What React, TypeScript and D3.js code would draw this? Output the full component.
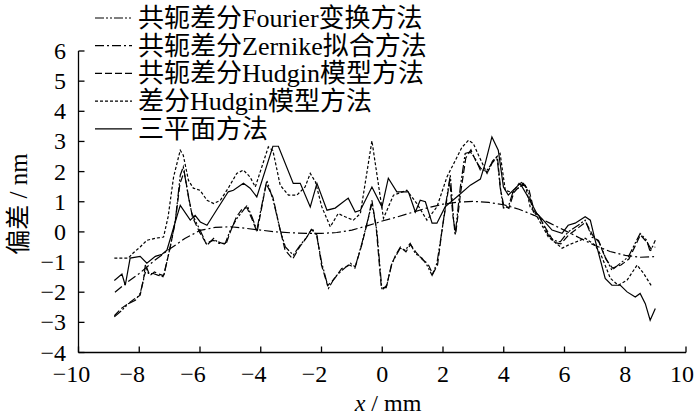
import React from "react";
import * as d3 from "d3";

type Pt = [number, number];

// 共轭差分Fourier变换方法
const fourier: Pt[] = [
  [-8.82, -2.82], [-8.57, -2.6], [-8.36, -2.38], [-8.13, -2.27], [-7.97, -2.04], [-7.86, -1.6],
  [-7.8, -1.1], [-7.7, -1.38], [-7.54, -1.38], [-7.37, -1.44], [-7.2, -1.49], [-6.98, -0.5],
  [-6.81, 0.39], [-6.65, 1.88], [-6.55, 2.16], [-6.38, 1.16], [-6.27, 0.61], [-6.0, 0.06],
  [-5.77, -0.44], [-5.55, -0.21], [-5.38, -0.38], [-5.17, -0.38], [-5.0, 0.06], [-4.79, 0.44],
  [-4.57, 0.72], [-4.45, 0.88], [-4.29, 0.5], [-4.13, 0.06], [-3.8, 1.71], [-3.59, 1.05],
  [-3.36, 0.06], [-3.19, -0.5], [-2.93, -0.77], [-2.7, -0.44], [-2.48, -0.17], [-2.31, 0.12],
  [-2.15, -0.17], [-1.99, -1.04], [-1.77, -1.87], [-1.55, -1.49], [-1.32, -1.27], [-1.05, -1.04],
  [-0.89, -1.16], [-0.67, -0.38], [-0.45, 0.5], [-0.34, 0.94], [-0.18, 0.06], [-0.01, -1.93],
  [0.15, -1.77], [0.32, -1.04], [0.43, -0.83], [0.59, -0.54], [0.76, -0.61], [0.92, -0.38],
  [1.09, -0.72], [1.31, -0.87], [1.47, -1.1], [1.64, -1.44], [1.8, -1.04], [1.97, 0.06],
  [2.07, 0.79], [2.24, 1.88], [2.35, 0.39], [2.4, -0.11], [2.57, 1.49], [2.73, 2.6],
  [2.9, 2.65], [3.06, 2.44], [3.23, 2.05], [3.45, 2.05], [3.61, 2.27], [3.78, 2.49],
  [3.88, 1.49], [3.99, 0.79], [4.15, 0.83], [4.32, 1.38], [4.48, 1.45], [4.65, 1.61],
  [4.81, 1.33], [4.98, 0.66], [5.15, 0.55], [5.47, -0.11], [5.64, -0.28], [5.86, -0.33],
  [6.12, 0.0], [6.45, 0.22], [6.68, 0.39], [6.9, -0.17], [7.12, -0.28], [7.34, -0.83],
  [7.56, -1.27], [7.84, -1.04], [8.1, -0.83], [8.49, -0.05], [8.71, -0.28], [8.82, -0.66],
  [8.99, -0.28],
];

// 共轭差分Zernike拟合方法
const zernike: Pt[] = [
  [-8.8, -2.0], [-8.5, -1.75], [-8.0, -1.38], [-7.5, -0.95], [-7.0, -0.57], [-6.5, -0.22],
  [-6.0, 0.05], [-5.5, 0.15], [-5.0, 0.17], [-4.5, 0.12], [-4.0, 0.06], [-3.5, 0.0],
  [-3.0, -0.03], [-2.5, -0.05], [-2.0, -0.05], [-1.5, -0.02], [-1.0, 0.06], [-0.5, 0.2],
  [0.0, 0.36], [0.5, 0.5], [1.0, 0.65], [1.5, 0.8], [2.0, 0.92], [2.5, 0.99],
  [3.0, 1.01], [3.5, 0.98], [4.0, 0.9], [4.5, 0.75], [5.0, 0.55], [5.5, 0.3],
  [6.0, 0.05], [6.5, -0.2], [7.0, -0.45], [7.5, -0.65], [8.0, -0.78], [8.5, -0.84],
  [9.0, -0.82],
];

// 共轭差分Hudgin模型方法
const conjHudgin: Pt[] = [
  [-8.82, -2.78], [-8.6, -2.55], [-8.4, -2.4], [-8.15, -2.22], [-7.97, -2.1], [-7.85, -1.5],
  [-7.75, -1.2], [-7.65, -1.45], [-7.5, -1.33], [-7.35, -1.4], [-7.2, -1.45], [-7.0, -0.6],
  [-6.82, 0.3], [-6.66, 1.6], [-6.52, 2.0], [-6.4, 1.3], [-6.25, 0.5], [-6.02, 0.0],
  [-5.8, -0.38], [-5.57, -0.28], [-5.4, -0.33], [-5.15, -0.42], [-5.0, 0.0], [-4.8, 0.5],
  [-4.6, 0.78], [-4.45, 0.8], [-4.3, 0.45], [-4.12, 0.0], [-3.82, 1.6], [-3.6, 1.15],
  [-3.38, 0.15], [-3.2, -0.6], [-2.95, -0.9], [-2.72, -0.5], [-2.5, -0.2], [-2.33, 0.08],
  [-2.15, -0.1], [-2.0, -1.1], [-1.8, -1.78], [-1.57, -1.55], [-1.34, -1.22], [-1.07, -1.1],
  [-0.9, -1.2], [-0.68, -0.45], [-0.47, 0.4], [-0.34, 1.05], [-0.2, 0.15], [-0.03, -1.85],
  [0.13, -1.85], [0.3, -1.1], [0.45, -0.75], [0.6, -0.5], [0.78, -0.66], [0.93, -0.42],
  [1.1, -0.66], [1.32, -0.92], [1.5, -1.05], [1.66, -1.4], [1.82, -1.1], [1.98, 0.15],
  [2.1, 0.9], [2.22, 1.7], [2.33, 0.5], [2.42, -0.05], [2.58, 1.3], [2.75, 2.45],
  [2.92, 2.72], [3.08, 2.35], [3.25, 2.1], [3.47, 1.98], [3.63, 2.35], [3.8, 2.4],
  [3.9, 1.38], [4.0, 0.88], [4.17, 0.78], [4.33, 1.3], [4.5, 1.5], [4.67, 1.55],
  [4.83, 1.4], [5.0, 0.7], [5.17, 0.5], [5.48, -0.05], [5.66, -0.35], [5.88, -0.4],
  [6.14, -0.1], [6.47, 0.15], [6.7, 0.33], [6.92, -0.1], [7.14, -0.35], [7.36, -0.9],
  [7.58, -1.2], [7.86, -1.1], [8.12, -0.9], [8.5, -0.1], [8.72, -0.35], [8.84, -0.55],
  [8.99, -0.5],
];

// 差分Hudgin模型方法
const diffHudgin: Pt[] = [
  [-8.82, -0.87], [-8.36, -0.87], [-8.2, -0.7], [-7.97, -0.5], [-7.75, -0.28], [-7.47, -0.21],
  [-7.2, -0.17], [-7.05, 0.5], [-6.87, 1.82], [-6.65, 2.71], [-6.55, 2.54], [-6.38, 1.71],
  [-6.22, 1.45], [-6.0, 1.38], [-5.77, 1.05], [-5.55, 0.94], [-5.33, 1.05], [-5.07, 1.45],
  [-4.79, 1.94], [-4.57, 2.05], [-4.35, 1.82], [-4.18, 1.49], [-3.75, 2.82], [-3.6, 2.7],
  [-3.36, 1.55], [-3.09, 1.22], [-2.81, 1.22], [-2.54, 1.49], [-2.37, 1.94], [-2.2, 1.66],
  [-1.99, 0.83], [-1.71, 0.17], [-1.45, 0.61], [-1.22, 0.5], [-0.95, 0.39], [-0.72, 0.61],
  [-0.34, 3.02], [0.04, 0.45], [0.37, 1.22], [0.81, 1.38], [1.14, 0.94], [1.47, 0.39],
  [1.8, 0.83], [2.13, 1.82], [2.62, 2.8], [2.84, 3.04], [3.0, 2.93], [3.17, 2.54],
  [3.45, 1.94], [3.66, 2.38], [3.88, 2.6], [4.05, 1.38], [4.3, 1.3], [4.54, 1.66],
  [4.71, 1.55], [4.87, 0.83], [5.04, 0.61], [5.47, -0.17], [5.92, -0.54], [6.12, -0.44],
  [6.68, -0.21], [7.01, -0.44], [7.23, -0.83], [7.51, -1.54], [7.77, -1.77], [8.06, -1.6],
  [8.39, -1.1], [8.6, -1.37], [8.88, -1.82],
];

// 三平面方法
const threeFlat: Pt[] = [
  [-8.82, -1.61], [-8.57, -1.4], [-8.46, -1.77], [-8.3, -0.87], [-7.97, -0.81], [-7.75, -1.04],
  [-7.47, -0.81], [-7.25, -0.74], [-7.09, -0.61], [-6.75, 0.55], [-6.65, 0.88], [-6.32, 0.39],
  [-6.16, 0.55], [-5.99, 0.33], [-5.77, 0.22], [-5.5, 0.65], [-5.07, 1.33], [-4.9, 1.38],
  [-4.57, 1.61], [-4.35, 1.45], [-4.13, 1.16], [-3.6, 2.84], [-3.42, 2.84], [-2.93, 1.61],
  [-2.7, 1.61], [-2.37, 0.83], [-2.15, 1.61], [-1.82, 0.72], [-1.55, 0.79], [-1.12, 1.12],
  [-0.89, 0.66], [-0.72, 0.72], [-0.34, 1.49], [-0.01, 0.83], [0.2, 1.78], [0.48, 1.33],
  [0.86, 1.33], [1.09, 0.66], [1.25, 1.05], [1.42, 1.0], [1.64, 0.29], [1.8, 0.29],
  [2.07, 0.83], [2.5, 1.2], [2.9, 1.55], [3.23, 1.75], [3.39, 2.27], [3.61, 3.15],
  [3.82, 2.71], [3.99, 1.49], [4.15, 1.22], [4.54, 1.61], [4.8, 1.16], [5.09, 0.61],
  [5.3, 0.39], [5.59, 0.06], [5.92, -0.05], [6.12, 0.22], [6.35, 0.29], [6.68, 0.5],
  [6.85, 0.39], [7.01, -0.28], [7.34, -1.54], [7.56, -1.77], [7.84, -1.77], [8.06, -1.99],
  [8.33, -2.16], [8.49, -2.04], [8.66, -2.38], [8.82, -2.93], [8.99, -2.54],
];

const seriesNames = [
  "共轭差分Fourier变换方法",
  "共轭差分Zernike拟合方法",
  "共轭差分Hudgin模型方法",
  "差分Hudgin模型方法",
  "三平面方法",
];
const seriesData = [fourier, zernike, conjHudgin, diffHudgin, threeFlat];
const dashes = ["9,2,2,2,2,2", "9,3,2,3", "7,3", "3,2", "none"];

const xTicks = [-10, -8, -6, -4, -2, 0, 2, 4, 6, 8, 10];
const yTicks = [-4, -3, -2, -1, 0, 1, 2, 3, 4, 5, 6];

const FONT = '"Liberation Serif", "DejaVu Serif", "Noto Sans CJK SC", serif';

export default function App() {
  const x = d3.scaleLinear().domain([-10, 10]).range([78.5, 686]);
  const y = d3.scaleLinear().domain([-4, 6]).range([352.5, 51]);
  const line = d3
    .line<Pt>()
    .x((d) => x(d[0]))
    .y((d) => y(d[1]));

  const fmt = (v: number) => (v < 0 ? "\u2212" + Math.abs(v) : String(v));

  return (
    <svg
      width={700}
      height={420}
      style={{ position: "fixed", left: 0, top: 0, background: "#fff", fontFamily: FONT }}
    >
      {/* axes */}
      <line x1={x(-10)} x2={x(10)} y1={y(-4)} y2={y(-4)} stroke="#000" strokeWidth={1.3} />
      <line x1={x(-10)} x2={x(-10)} y1={y(-4)} y2={y(6)} stroke="#000" strokeWidth={1.3} />
      {xTicks.map((t) => (
        <g key={"x" + t}>
          <line x1={x(t)} x2={x(t)} y1={y(-4)} y2={y(-4) - 6} stroke="#000" strokeWidth={1.3} />
          <text x={x(t) - (t < 0 ? 7 : t === 10 ? 4 : 0)} y={382} fontSize={24} textAnchor="middle">
            {fmt(t)}
          </text>
        </g>
      ))}
      {yTicks.map((t) => (
        <g key={"y" + t}>
          <line x1={x(-10)} x2={x(-10) + 6} y1={y(t)} y2={y(t)} stroke="#000" strokeWidth={1.3} />
          <text x={66} y={y(t) + 8} fontSize={24} textAnchor="end">
            {fmt(t)}
          </text>
        </g>
      ))}
      <text x={388} y={411} fontSize={24} textAnchor="middle">
        <tspan fontStyle="italic">x</tspan> / mm
      </text>
      <text transform="translate(27,204) rotate(-90)" fontSize={25} textAnchor="middle">
        偏差 / nm
      </text>

      {/* series */}
      {seriesData.map((d, i) => (
        <path
          key={i}
          d={line(d) ?? ""}
          fill="none"
          stroke="#000"
          strokeWidth={1.2}
          strokeDasharray={dashes[i]}
        />
      ))}

      {/* legend */}
      {seriesNames.map((name, i) => {
        const ly = 18 + i * 27.7;
        return (
          <g key={name}>
            <line x1={95} x2={132} y1={ly} y2={ly} stroke="#000" strokeWidth={1.2} strokeDasharray={dashes[i]} />
            <text x={138} y={ly + 9} fontSize={26}>
              {name}
            </text>
          </g>
        );
      })}
    </svg>
  );
}
